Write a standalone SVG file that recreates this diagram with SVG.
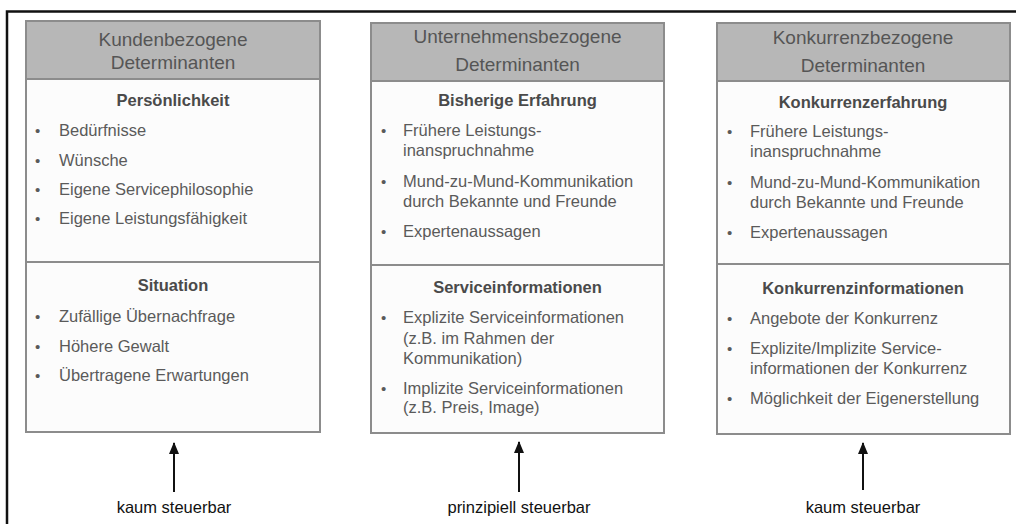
<svg xmlns="http://www.w3.org/2000/svg" width="1016" height="524" viewBox="0 0 1016 524">
  <style>
    .frame { fill: none; stroke: #111; stroke-width: 2.5; }
    .box { fill: #fcfcfc; stroke: #8c8c8c; stroke-width: 2; }
    .head { fill: #b7b7b7; stroke: #8c8c8c; stroke-width: 2; }
    .div { stroke: #8c8c8c; stroke-width: 2; }
    .ht { font-family: "Liberation Sans", Arial, sans-serif; font-size: 19px; fill: #555; text-anchor: middle; }
    .st { font-family: "Liberation Sans", Arial, sans-serif; font-size: 16.5px; font-weight: bold; fill: #4a4a4a; text-anchor: middle; }
    .it { font-family: "Liberation Sans", Arial, sans-serif; font-size: 16.5px; fill: #5a5a5a; }
    .bu { font-family: "Liberation Sans", Arial, sans-serif; font-size: 15px; fill: #5a5a5a; }
    .lb { font-family: "Liberation Sans", Arial, sans-serif; font-size: 16.5px; fill: #111; text-anchor: middle; }
    .arr { stroke: #111; stroke-width: 2; fill: none; }
  </style>
  <defs>
    <!-- arrowhead drawn along +x so orient="auto" follows the line -->
    <marker id="tip" viewBox="0 0 12 10" refX="11" refY="5" markerWidth="12" markerHeight="10" markerUnits="userSpaceOnUse" orient="auto">
      <path d="M0,0 L12,5 L0,10 Z" fill="#111"/>
    </marker>
  </defs>

  <rect width="1016" height="524" fill="#fff"/>

  <!-- outer frame: top and left edges -->
  <path class="frame" d="M7,524 V11.5 H1016"/>

  <!-- column 1 -->
  <g id="kunden">
    <rect class="box" x="26" y="21" width="294" height="411"/>
    <rect class="head" x="26" y="21" width="294" height="58"/>
    <line class="div" x1="26" y1="262" x2="320" y2="262"/>
    <text class="ht" x="173" y="46">Kundenbezogene</text>
    <text class="ht" x="173" y="69">Determinanten</text>
    <text class="st" x="173" y="106">Persönlichkeit</text>
    <text class="bu" x="35" y="136">•</text><text class="it" x="59" y="136">Bedürfnisse</text>
    <text class="bu" x="35" y="166">•</text><text class="it" x="59" y="166">Wünsche</text>
    <text class="bu" x="35" y="195">•</text><text class="it" x="59" y="195">Eigene Servicephilosophie</text>
    <text class="bu" x="35" y="224">•</text><text class="it" x="59" y="224">Eigene Leistungsfähigkeit</text>
    <text class="st" x="173" y="291">Situation</text>
    <text class="bu" x="35" y="322">•</text><text class="it" x="59" y="322">Zufällige Übernachfrage</text>
    <text class="bu" x="35" y="352">•</text><text class="it" x="59" y="352">Höhere Gewalt</text>
    <text class="bu" x="35" y="381">•</text><text class="it" x="59" y="381">Übertragene Erwartungen</text>
  </g>

  <!-- column 2 -->
  <g id="unternehmen">
    <rect class="box" x="371" y="23" width="293" height="410"/>
    <rect class="head" x="371" y="23" width="293" height="58"/>
    <line class="div" x1="371" y1="265" x2="664" y2="265"/>
    <text class="ht" x="517.5" y="43">Unternehmensbezogene</text>
    <text class="ht" x="517.5" y="71">Determinanten</text>
    <text class="st" x="517.5" y="106">Bisherige Erfahrung</text>
    <text class="bu" x="381" y="136">•</text><text class="it" x="403" y="136">Frühere Leistungs-</text>
    <text class="it" x="403" y="156">inanspruchnahme</text>
    <text class="bu" x="381" y="187">•</text><text class="it" x="403" y="187">Mund-zu-Mund-Kommunikation</text>
    <text class="it" x="403" y="207">durch Bekannte und Freunde</text>
    <text class="bu" x="381" y="237">•</text><text class="it" x="403" y="237">Expertenaussagen</text>
    <text class="st" x="517.5" y="293">Serviceinformationen</text>
    <text class="bu" x="381" y="323">•</text><text class="it" x="403" y="323">Explizite Serviceinformationen</text>
    <text class="it" x="403" y="344">(z.B. im Rahmen der</text>
    <text class="it" x="403" y="364">Kommunikation)</text>
    <text class="bu" x="381" y="394">•</text><text class="it" x="403" y="394">Implizite Serviceinformationen</text>
    <text class="it" x="403" y="413">(z.B. Preis, Image)</text>
  </g>

  <!-- column 3 -->
  <g id="konkurrenz">
    <rect class="box" x="717" y="23" width="293" height="411"/>
    <rect class="head" x="717" y="23" width="293" height="58"/>
    <line class="div" x1="717" y1="264" x2="1010" y2="264"/>
    <text class="ht" x="863" y="44">Konkurrenzbezogene</text>
    <text class="ht" x="863" y="72">Determinanten</text>
    <text class="st" x="863" y="108">Konkurrenzerfahrung</text>
    <text class="bu" x="727" y="137">•</text><text class="it" x="750" y="137">Frühere Leistungs-</text>
    <text class="it" x="750" y="157">inanspruchnahme</text>
    <text class="bu" x="727" y="188">•</text><text class="it" x="750" y="188">Mund-zu-Mund-Kommunikation</text>
    <text class="it" x="750" y="208">durch Bekannte und Freunde</text>
    <text class="bu" x="727" y="238">•</text><text class="it" x="750" y="238">Expertenaussagen</text>
    <text class="st" x="863" y="294">Konkurrenzinformationen</text>
    <text class="bu" x="727" y="324">•</text><text class="it" x="750" y="324">Angebote der Konkurrenz</text>
    <text class="bu" x="727" y="354">•</text><text class="it" x="750" y="354">Explizite/Implizite Service-</text>
    <text class="it" x="750" y="374">informationen der Konkurrenz</text>
    <text class="bu" x="727" y="404">•</text><text class="it" x="750" y="404">Möglichkeit der Eigenerstellung</text>
  </g>

  <!-- controllability arrows -->
  <g id="connectors">
    <line class="arr" x1="174" y1="492" x2="174" y2="443" marker-end="url(#tip)"/>
    <line class="arr" x1="519" y1="492" x2="519" y2="442" marker-end="url(#tip)"/>
    <line class="arr" x1="863" y1="490" x2="863" y2="443" marker-end="url(#tip)"/>
  </g>

  <g id="labels">
    <text class="lb" x="174" y="513">kaum steuerbar</text>
    <text class="lb" x="519" y="513">prinzipiell steuerbar</text>
    <text class="lb" x="863" y="513">kaum steuerbar</text>
  </g>
</svg>
